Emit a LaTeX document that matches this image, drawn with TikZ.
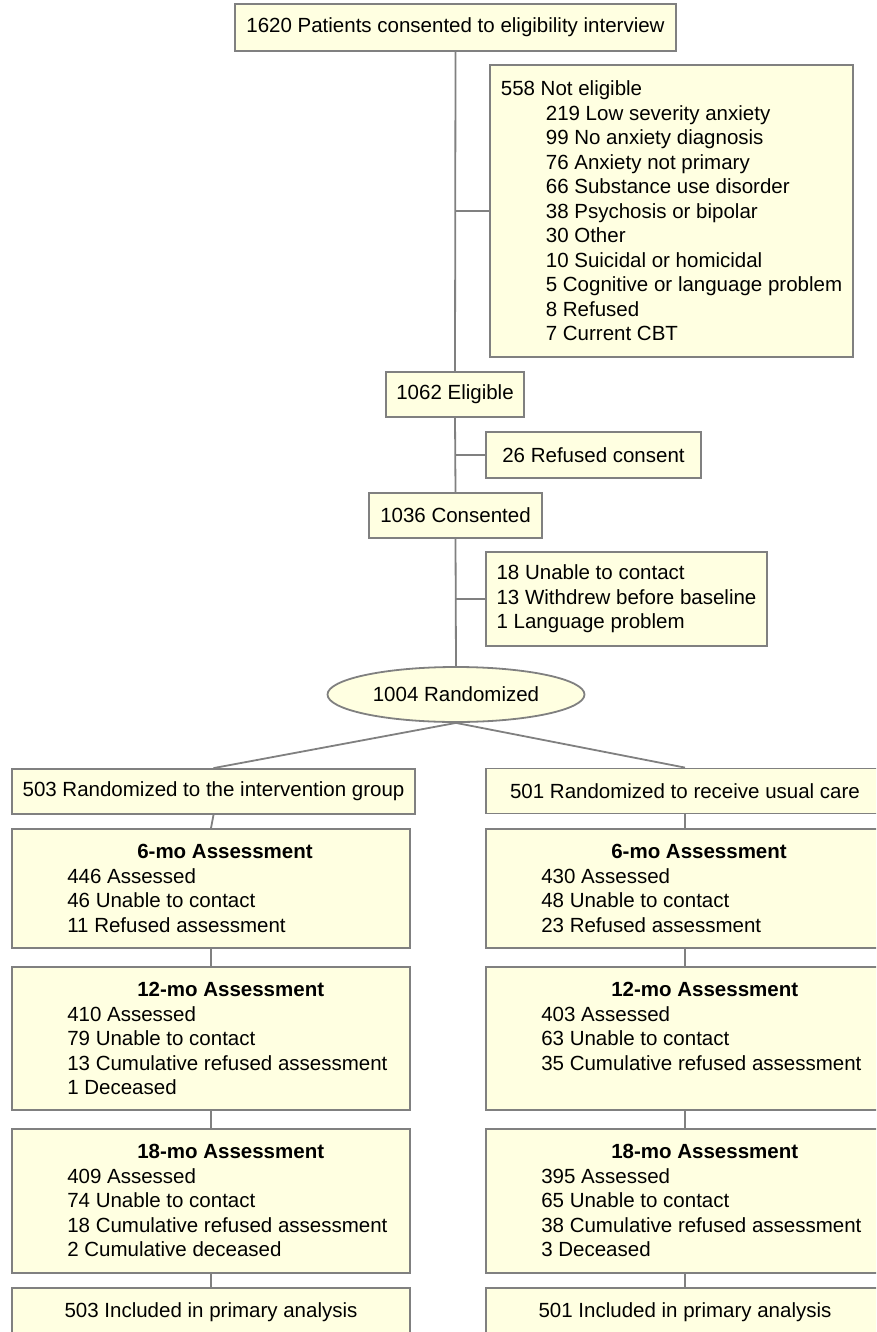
\documentclass[tikz,border=0pt]{standalone}
\usepackage{fontspec}
\setmainfont{Liberation Sans}
\usetikzlibrary{shapes.geometric}

\definecolor{linegray}{RGB}{128,128,128}
\definecolor{boxfill}{RGB}{255,255,225}

\begin{document}
\begin{tikzpicture}[x=1pt,y=-1pt]

% styles
\tikzset{
    box/.style={draw=linegray, fill=boxfill, line width=1.8pt, inner sep=0pt,
        font=\fontsize{20.5}{24.5}\selectfont, align=left},
    txt/.style={font=\fontsize{20.5}{24.5}\selectfont, align=left, inner sep=0pt, anchor=north west},
    link/.style={draw=linegray, line width=1.8pt}
}

\useasboundingbox (0,0) rectangle (876,1332);
\clip (0,0) rectangle (876,1332);

% screening
\node[box, minimum width=441, minimum height=47] (top) at (455.5,27.5) {1620 Patients consented to eligibility interview};
\node[box, minimum width=363, minimum height=292] (notelig) at (671.5,211) {558 Not eligible\\
\hspace*{45pt}219 Low severity anxiety\\
\hspace*{45pt}99 No anxiety diagnosis\\
\hspace*{45pt}76 Anxiety not primary\\
\hspace*{45pt}66 Substance use disorder\\
\hspace*{45pt}38 Psychosis or bipolar\\
\hspace*{45pt}30 Other\\
\hspace*{45pt}10 Suicidal or homicidal\\
\hspace*{45pt}5 Cognitive or language problem\\
\hspace*{45pt}8 Refused\\
\hspace*{45pt}7 Current CBT};
\node[box, minimum width=138, minimum height=45] (elig) at (455,394.5) {1062 Eligible};
\node[box, minimum width=215, minimum height=46] (refused) at (593.5,455) {26 Refused consent};
\node[box, minimum width=173, minimum height=45] (cons) at (455.5,515.5) {1036 Consented};
\node[box, minimum width=281, minimum height=94] (lost) at (626.5,599) {18 Unable to contact\\13 Withdrew before baseline\\1 Language problem};
\node[box, ellipse, minimum width=257, minimum height=55] (rand) at (456,694.5) {1004 Randomized};

\draw[link] (top.south) -- (elig.north);
\draw[link] (elig.south) -- (cons.north);
\draw[link] (cons.south) -- (rand.north);
\draw[link] (notelig.west) -- (notelig.west -| top.south);
\draw[link] (refused.west) -- (refused.west -| elig.south);
\draw[link] (lost.west) -- (lost.west -| cons.south);

% intervention group
\node[box, minimum width=403, minimum height=45] (randL) at (213.5,791.5) {503 Randomized to the intervention group};
\node[box, minimum width=398, minimum height=119] (sixL) at (211,888.5) {};
\node[box, minimum width=398, minimum height=143] (twelveL) at (211,1038.5) {};
\node[box, minimum width=398, minimum height=144] (eighteenL) at (211,1201) {};
\node[box, minimum width=398, minimum height=48] (finalL) at (211,1312) {503 Included in primary analysis};

\node[txt] (sixLt) at ([xshift=56pt,yshift=-16pt]sixL.north west) {\hspace*{70pt}\textbf{6-mo Assessment}\\446 Assessed\\46 Unable to contact\\11 Refused assessment};
\node[txt] (twelveLt) at ([xshift=56pt,yshift=-16pt]twelveL.north west) {\hspace*{70pt}\textbf{12-mo Assessment}\\410 Assessed\\79 Unable to contact\\13 Cumulative refused assessment\\1 Deceased};
\node[txt] (eighteenLt) at ([xshift=56pt,yshift=-16pt]eighteenL.north west) {\hspace*{70pt}\textbf{18-mo Assessment}\\409 Assessed\\74 Unable to contact\\18 Cumulative refused assessment\\2 Cumulative deceased};

% usual care group
\node[box, minimum width=398, minimum height=45] (randR) at (685,791) {501 Randomized to receive usual care};
\node[box, minimum width=398, minimum height=119] (sixR) at (685,888.5) {};
\node[box, minimum width=398, minimum height=143] (twelveR) at (685,1038.5) {};
\node[box, minimum width=398, minimum height=144] (eighteenR) at (685,1201) {};
\node[box, minimum width=398, minimum height=48] (finalR) at (685,1312) {501 Included in primary analysis};

\node[txt] (sixRt) at ([xshift=56pt,yshift=-16pt]sixR.north west) {\hspace*{70pt}\textbf{6-mo Assessment}\\430 Assessed\\48 Unable to contact\\23 Refused assessment};
\node[txt] (twelveRt) at ([xshift=56pt,yshift=-16pt]twelveR.north west) {\hspace*{70pt}\textbf{12-mo Assessment}\\403 Assessed\\63 Unable to contact\\35 Cumulative refused assessment};
\node[txt] (eighteenRt) at ([xshift=56pt,yshift=-16pt]eighteenR.north west) {\hspace*{70pt}\textbf{18-mo Assessment}\\395 Assessed\\65 Unable to contact\\38 Cumulative refused assessment\\3 Deceased};

\draw[link] (rand.south) -- (randL.north);
\draw[link] (rand.south) -- (randR.north);
\draw[link] (randL.south) -- (sixL.north);
\draw[link] (sixL.south) -- (twelveL.north);
\draw[link] (twelveL.south) -- (eighteenL.north);
\draw[link] (eighteenL.south) -- (finalL.north);
\draw[link] (randR.south) -- (sixR.north);
\draw[link] (sixR.south) -- (twelveR.north);
\draw[link] (twelveR.south) -- (eighteenR.north);
\draw[link] (eighteenR.south) -- (finalR.north);

\end{tikzpicture}
\end{document}
